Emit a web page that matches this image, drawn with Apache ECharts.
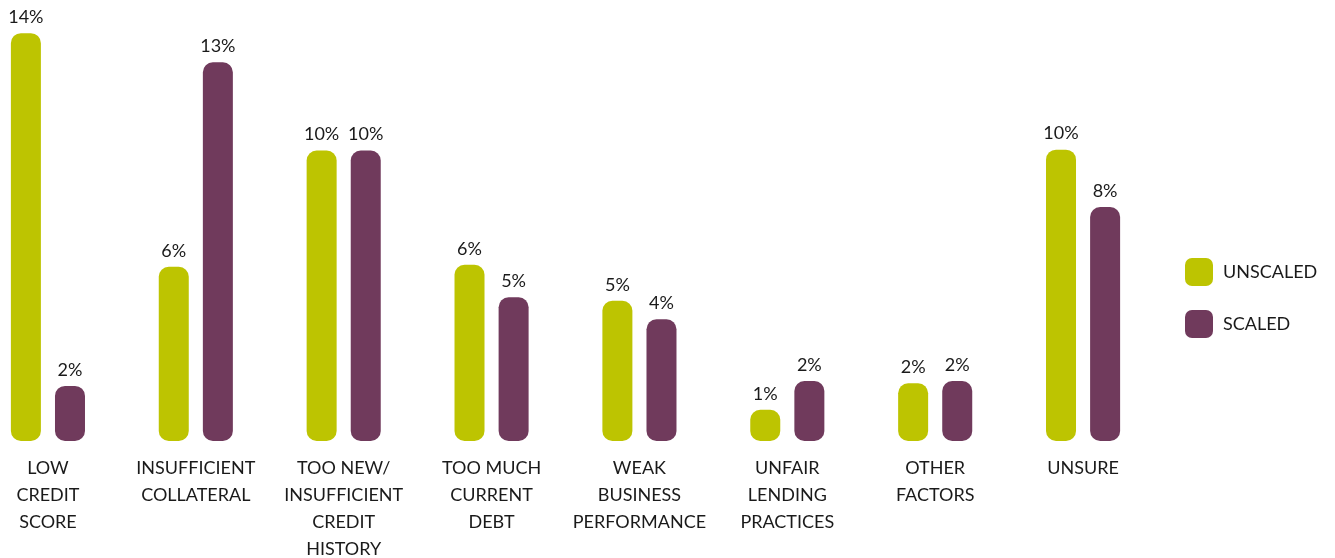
<!DOCTYPE html>
<html>
<head>
<meta charset="utf-8">
<script src="https://cdn.jsdelivr.net/npm/echarts@6/dist/echarts.min.js"></script>
<style>
html,body{margin:0;padding:0;background:#fff;}
#chart{width:1335px;height:558px;}
</style>
</head>
<body>
<div id="chart"></div>
<script>
var categories = [
  'LOW\nCREDIT\nSCORE',
  'INSUFFICIENT\nCOLLATERAL',
  'TOO NEW/\nINSUFFICIENT\nCREDIT\nHISTORY',
  'TOO MUCH\nCURRENT\nDEBT',
  'WEAK\nBUSINESS\nPERFORMANCE',
  'UNFAIR\nLENDING\nPRACTICES',
  'OTHER\nFACTORS',
  'UNSURE'
];
var unscaled = [14.0, 5.98, 9.97, 6.05, 4.81, 1.07, 1.98, 10.0];
var scaled = [1.89, 13.0, 9.97, 4.93, 4.18, 2.06, 2.06, 8.03];
var seriesNames = ['UNSCALED', 'SCALED'];

var FONT = 'Lato';
var chart = echarts.init(document.getElementById('chart'));
function labelCfg() {
  return {
    show: true, position: 'top', distance: 7,
    fontFamily: FONT, fontSize: 18, color: '#1a1a1a',
    formatter: function (p) { return Math.round(p.value) + '%'; }
  };
}
chart.setOption({
  animation: false,
  backgroundColor: '#ffffff',
  grid: { left: -26, right: 178, top: 4, bottom: 117, containLabel: false, outerBoundsMode: 'none' },
  legend: {
    orient: 'vertical', left: 1185, top: 258, padding: 0,
    itemWidth: 28, itemHeight: 28, itemGap: 24,
    icon: 'roundRect',
    textStyle: { fontFamily: FONT, fontSize: 18, color: '#1a1a1a', padding: [0,0,0,5] },
    data: seriesNames
  },
  xAxis: {
    type: 'category', data: categories,
    axisLine: { show: false }, axisTick: { show: false },
    axisLabel: { interval: 0, margin: 14, fontFamily: FONT, fontSize: 18, lineHeight: 27, color: '#1a1a1a', verticalAlign: 'top' }
  },
  yAxis: {
    type: 'value', min: 0, max: 15,
    show: false, splitLine: { show: false }
  },
  series: [
    {
      name: seriesNames[0], type: 'bar', data: unscaled,
      barWidth: 30, barGap: '47%',
      itemStyle: { color: '#bdc401', borderRadius: 10 },
      label: labelCfg()
    },
    {
      name: seriesNames[1], type: 'bar', data: scaled,
      barWidth: 30, barGap: '47%',
      itemStyle: { color: '#703a5c', borderRadius: 10 },
      label: labelCfg()
    }
  ]
});
</script>
</body>
</html>
